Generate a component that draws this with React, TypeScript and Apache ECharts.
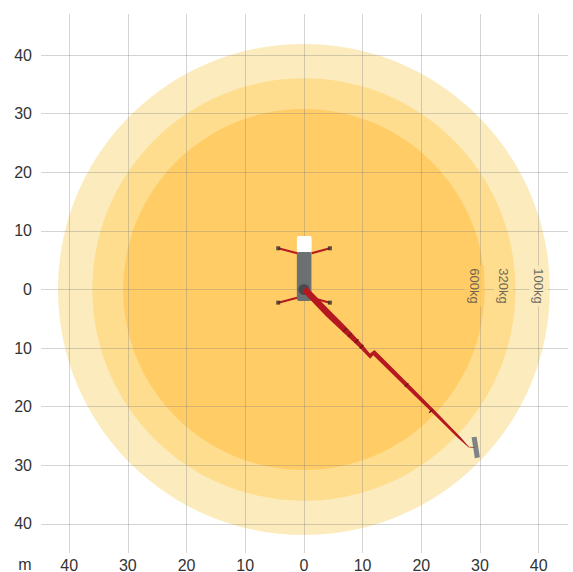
import React, { useEffect, useRef } from "react";
import * as echarts from "echarts";

const tickValues = [-40, -30, -20, -10, 0, 10, 20, 30, 40];
const zoneRadii = [41.9, 36.05, 30.8];
const zoneColors = ["#FBEBBD", "#FEDD8F", "#FFCC66"];
const zoneLabels = ["100kg", "320kg", "600kg"];
const zoneLabelX = [40.0, 34.0, 29.0];
const zoneLabelY = 0.6;

const boomX = [0.48, 4.55, 7.34, 10.08, 11.24, 12.03, 17.74, 22.17, 26.6, 28.16, 28.09, 26.3, 21.78, 17.25, 11.82, 11.29, 9.58, 6.63, 3.73, -0.31];
const boomY = [0.48, -3.72, -6.55, -9.51, -10.92, -10.33, -16.05, -20.54, -25.07, -26.88, -26.98, -25.37, -20.93, -16.54, -11.23, -11.81, -10.02, -7.27, -4.54, -0.31];
const jointX = [6.98, 7.84, 8.98, 9.83, 17.49, 21.64];
const jointY = [-6.91, -7.77, -8.79, -9.75, -16.3, -20.74];
const jibX = [28.57, 29.42, 29.98, 29.13];
const jibY = [-25.22, -25.12, -28.63, -28.81];
const connectorX = [28.2, 29.13];
const connectorY = [-26.9, -27.0];
const bodyBox = [-1.2, 6.4, 1.28, -1.96];
const cabBox = [-1.2, 9.13, 1.32, 6.4];
const outriggerEndX = [-4.38, 4.43, -4.38, 4.43];
const outriggerEndY = [7.03, 7.03, -2.25, -2.25];
const outriggerRootX = [-1.14, 1.31, -1.14, 1.31];
const outriggerRootY = [6.18, 6.18, -1.4, -1.4];

const RED = "#B5191F";

function polygonSeries(xs: number[], ys: number[], color: string, z: number) {
  return {
    type: "custom",
    z,
    silent: true,
    clip: false,
    data: xs.map((x, i) => [x, ys[i]]),
    renderItem: (params: any, api: any) => {
      if (params.dataIndex !== 0) return null;
      return {
        type: "polygon",
        shape: { points: xs.map((x, i) => api.coord([x, ys[i]])) },
        style: { fill: color },
      };
    },
  };
}

function boxSeries(box: number[], color: string, r: number, z: number) {
  return {
    type: "custom",
    z,
    silent: true,
    data: [[box[0], box[1]]],
    renderItem: (_: any, api: any) => {
      const a = api.coord([box[0], box[1]]);
      const b = api.coord([box[2], box[3]]);
      return {
        type: "rect",
        shape: { x: a[0], y: a[1], width: b[0] - a[0], height: b[1] - a[1], r },
        style: { fill: color },
      };
    },
  };
}

function segment(x: number[], y: number[], color: string, width: number, z: number) {
  return {
    type: "line",
    z,
    silent: true,
    symbol: "none",
    data: x.map((v, i) => [v, y[i]]),
    lineStyle: { color, width },
  };
}

export default function App() {
  const ref = useRef<HTMLDivElement>(null);
  useEffect(() => {
    const chart = echarts.init(ref.current!, undefined, { renderer: "svg" });
    const fmt = (v: number) => String(Math.abs(v));
    const gridLine = { show: true, lineStyle: { color: "rgba(120,120,120,0.32)", width: 1 } };
    const axisCommon = {
      type: "value" as const,
      axisLine: { show: false },
      axisTick: { show: false, customValues: tickValues },
      splitLine: gridLine,
    };
    const labelCommon = {
      customValues: tickValues,
      formatter: fmt,
      color: "#333",
      fontSize: 16,
      fontFamily: "Liberation Sans",
      showMinLabel: true,
      showMaxLabel: true,
    };
    chart.setOption({
      animation: false,
      backgroundColor: "#fff",
      grid: { left: 41, right: 5, top: 14, bottom: 19, outerBoundsMode: "none" },
      xAxis: { ...axisCommon, min: -44.8, max: 45, axisLabel: { ...labelCommon, margin: 4 } },
      yAxis: { ...axisCommon, min: -44.97, max: 47.01, axisLabel: { ...labelCommon, margin: 9 } },
      graphic: [
        {
          type: "text",
          x: 25,
          y: 564,
          style: {
            text: "m",
            fill: "#333",
            fontSize: 16,
            fontFamily: "Liberation Sans",
            align: "center",
            verticalAlign: "middle",
          },
        },
      ],
      series: [
        {
          type: "custom",
          z: -1,
          silent: true,
          clip: false,
          data: zoneRadii.map((r) => [0, 0, r]),
          encode: { x: 0, y: 1 },
          renderItem: (params: any, api: any) => {
            const c = api.coord([0, 0]);
            const s = api.size([api.value(2), api.value(2)]);
            return {
              type: "ellipse",
              shape: { cx: c[0], cy: c[1], rx: s[0], ry: s[1] },
              style: { fill: zoneColors[params.dataIndex] },
            };
          },
        },
        {
          type: "scatter",
          z: 3,
          silent: true,
          symbolSize: 0,
          data: zoneLabels.map((name, i) => ({
            value: [zoneLabelX[i], zoneLabelY],
            label: {
              show: true,
              position: "inside",
              formatter: name,
              rotate: -90,
              color: "#484848",
              fontSize: 13,
              fontFamily: "Liberation Sans",
              padding: [3, 3],
              backgroundColor: zoneColors[i],
            },
          })),
        },
        ...outriggerEndX.map((x, i) =>
          segment([outriggerRootX[i], x], [outriggerRootY[i], outriggerEndY[i]], RED, 2, 4)
        ),
        {
          type: "scatter",
          z: 5,
          silent: true,
          symbol: "rect",
          symbolSize: 4,
          itemStyle: { color: "#3a3030" },
          data: outriggerEndX.map((x, i) => [x, outriggerEndY[i]]),
        },
        boxSeries(bodyBox, "#6B7073", 2, 5),
        boxSeries(cabBox, "#FFFFFF", 2, 5),
        {
          type: "scatter",
          z: 6,
          silent: true,
          symbolSize: 11,
          itemStyle: { color: "#3F4346" },
          data: [[0, 0]],
        },
        polygonSeries(jibX, jibY, "#7F8386", 6),
        segment(connectorX, connectorY, "#8a5a50", 1, 6),
        polygonSeries(boomX, boomY, RED, 7),
        ...jointX.map((x, i) =>
          segment([x - 0.3, x + 0.3], [jointY[i] - 0.3, jointY[i] + 0.3], "#6E1A1A", 1.5, 8)
        ),
      ],
    });
    return () => chart.dispose();
  }, []);
  return <div ref={ref} style={{ position: "fixed", left: 0, top: 0, width: 573, height: 572 }} />;
}
